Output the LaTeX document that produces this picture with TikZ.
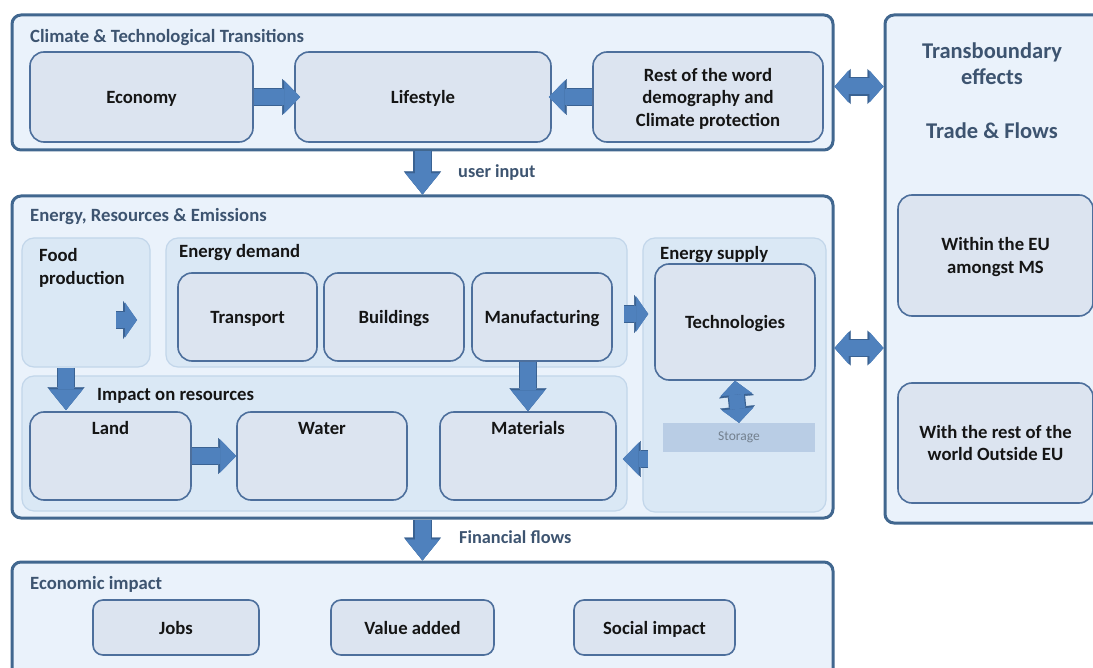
\documentclass[tikz,border=0pt]{standalone}
\usepackage{fontspec}
\setmainfont{Carlito}
\usetikzlibrary{arrows.meta,calc}
\definecolor{cborder}{HTML}{41678F}
\definecolor{cfill}{HTML}{EAF2FB}
\definecolor{pfill}{HTML}{DAE8F5}
\definecolor{pborder}{HTML}{C2D6EA}
\definecolor{bfill}{HTML}{DCE4F0}
\definecolor{bborder}{HTML}{4D6F9C}
\definecolor{afill}{HTML}{4F81BD}
\definecolor{aborder}{HTML}{3A6292}
\definecolor{titlecol}{HTML}{3D5470}
\definecolor{txt}{HTML}{151515}
\definecolor{storfill}{HTML}{B9CDE5}
\definecolor{stortxt}{HTML}{73808E}
\newcommand\rect[7]{\node[#1,minimum width={#4-#2},minimum height={#5-#3}] (#6) at ({(#2+#4)/2},{(#3+#5)/2}) {#7};}
\tikzset{
  tipA/.tip={Triangle[length=16pt,width=33pt,line width=0.3pt]},
  tipAo/.tip={Triangle[length=18pt,width=36pt,line width=0.3pt]},
  tipB/.tip={Triangle[length=21pt,width=34pt,line width=0.3pt]},
  tipBo/.tip={Triangle[length=23pt,width=37pt,line width=0.3pt]},
  tipC/.tip={Triangle[length=12pt,width=35pt,line width=0.3pt]},
  tipCo/.tip={Triangle[length=14pt,width=38pt,line width=0.3pt]},
  tipD/.tip={Triangle[length=14pt,width=32pt,line width=0.3pt]},
  tipDo/.tip={Triangle[length=16pt,width=35pt,line width=0.3pt]},
}
\begin{document}
\begin{tikzpicture}[x=1pt,y=-1pt,
  container/.style={draw=cborder,line width=3pt,fill=cfill,rounded corners=9pt,inner sep=0pt},
  panel/.style={draw=pborder,line width=1.2pt,fill=pfill,rounded corners=12pt,inner sep=0pt},
  box/.style={draw=bborder,line width=1.6pt,fill=bfill,rounded corners=14pt,inner sep=0pt,text depth=0pt,
              font=\fontsize{18.7}{22.5}\selectfont\bfseries,text=txt,align=center},
  sbox/.style={box,rounded corners=10pt},
  title/.style={anchor=base west,inner sep=0pt,text=titlecol,font=\fontsize{18.7}{22}\selectfont\bfseries},
  ptitle/.style={anchor=base west,inner sep=0pt,text=txt,font=\fontsize{18.7}{22}\selectfont\bfseries},
  btitle/.style={anchor=base,inner sep=0pt,text=txt,font=\fontsize{18.7}{22}\selectfont\bfseries},
  rtitle/.style={anchor=base,inner sep=0pt,text=titlecol,font=\fontsize{22.5}{26}\selectfont\bfseries},
  lbl/.style={anchor=base west,inner sep=0pt,text=titlecol,font=\fontsize{18.3}{22}\selectfont\bfseries},
  arrA/.style={draw=afill,line width=16pt,-tipA,preaction={draw=aborder,line width=18.4pt,-tipAo}},
  arrB/.style={draw=afill,line width=16pt,-tipB,preaction={draw=aborder,line width=18.4pt,-tipBo}},
  arrC/.style={draw=afill,line width=16pt,-tipC,preaction={draw=aborder,line width=18.4pt,-tipCo}},
  arrD/.style={draw=afill,line width=16pt,tipD-tipD,preaction={draw=aborder,line width=18.4pt,tipDo-tipDo}},
  arrS/.style={draw=afill,line width=15pt,tipD-tipD,preaction={draw=aborder,line width=17.4pt,tipDo-tipDo}},
]
\useasboundingbox (0,0) rectangle (1093,668);
\clip (0,0) rectangle (1093,668);

% containers
\rect{container}{12}{15}{833}{150}{top}{}
\rect{container}{12}{196}{833}{518}{mid}{}
\rect{container}{12}{562}{833}{700}{bot}{}
\rect{container}{885}{15}{1110}{523}{right}{}

% top row
\node[title] at (30,43) {Climate \& Technological Transitions};
\rect{box}{30}{52}{253}{142}{econ}{Economy}
\rect{box}{295}{52}{551}{142}{life}{Lifestyle}
\rect{box}{593}{52}{823}{142}{rest}{Rest of the word\\demography and\\Climate protection}

% middle
\node[title] at (30,222) {Energy, Resources \& Emissions};
\rect{panel}{22}{238}{150}{367}{food}{}
\rect{panel}{166}{238}{627}{367}{edem}{}
\rect{panel}{22}{376}{627}{511}{imp}{}
\rect{panel}{643}{238}{826}{512}{esup}{}
\node[ptitle] at (39,262) {Food};
\node[ptitle] at (39,285) {production};
\node[ptitle] at (179,258) {Energy demand};
\node[ptitle] at (97,400) {Impact on resources};
\node[ptitle] at (660,260) {Energy supply};
\rect{box}{178}{273}{317}{361}{trans}{Transport}
\rect{box}{324}{273}{464}{361}{build}{Buildings}
\rect{box}{472}{273}{612}{361}{manu}{Manufacturing}
\rect{box}{655}{264}{815}{380}{tech}{Technologies}
\node[draw=none,fill=storfill,inner sep=0pt,minimum width=152pt,minimum height=29pt,
      text=stortxt,font=\fontsize{13.5}{16}\selectfont] (stor) at (739,437.5) {Storage};
\rect{box}{30}{412}{191}{500}{land}{}
\rect{box}{237}{412}{407}{500}{water}{}
\rect{box}{440}{412}{616}{500}{mat}{}
\node[btitle] at (land.north |- 0,435) {Land};
\node[btitle] at (water.north |- 0,435) {Water};
\node[btitle] at (mat.north |- 0,435) {Materials};

% bottom
\node[title] at (30,589) {Economic impact};
\rect{sbox}{93}{600}{259}{655}{jobs}{Jobs}
\rect{sbox}{331}{600}{494}{655}{vadd}{Value added}
\rect{sbox}{574}{600}{735}{655}{soc}{Social impact}

% right
\node[rtitle] (tb1) at (992,59) {Transboundary};
\node[rtitle] (tb2) at (992,85) {effects};
\node[rtitle] (tf) at (992,139) {Trade \& Flows};
\rect{box}{898}{195}{1093}{316}{weu}{Within the EU\\amongst MS}
\rect{box}{898}{383}{1093}{503}{wrw}{With the rest of the\\world Outside EU}

% labels
\node[lbl] at (458,178) {user input};
\node[lbl] at (459,543) {Financial flows};

% arrows
\draw[arrA] (econ.east) -- ($(life.west)+(6,0)$);
\draw[arrA] (rest.west) -- ($(life.east)+(-3,0)$);
\draw[arrD] ($(top.east)+(0,4)$) -- ($(top.east -| right.west)+(0,4)$);
\draw[arrD] ($(mid.east)+(0,-9)$) -- ($(mid.east -| right.west)+(0,-9)$);
\draw[arrB] (top.south) -- (mid.north);
\draw[arrB] (mid.south) -- (bot.north);
\coordinate (fa) at (116,320);
\draw[arrC] (fa) -- ++(21,0);
\coordinate (fx) at (66,0);
\draw[arrB] (food.south -| fx) -- ($(land.north -| fx)+(0,-1)$);
\draw[arrA] (land.east) -- (water.west);
\draw[arrB] (manu.south -| mat.north) -- (mat.north);
\coordinate (mt) at (624,314);
\draw[arrC] (mt) -- ($(mt -| tech.west)+(-6,0)$);
\draw[arrS] (tech.south) -- (stor.north);
\coordinate (ms) at (648,459);
\draw[arrA] (ms) -- ($(ms -| mat.east)+(6,0)$);
\end{tikzpicture}
\end{document}
